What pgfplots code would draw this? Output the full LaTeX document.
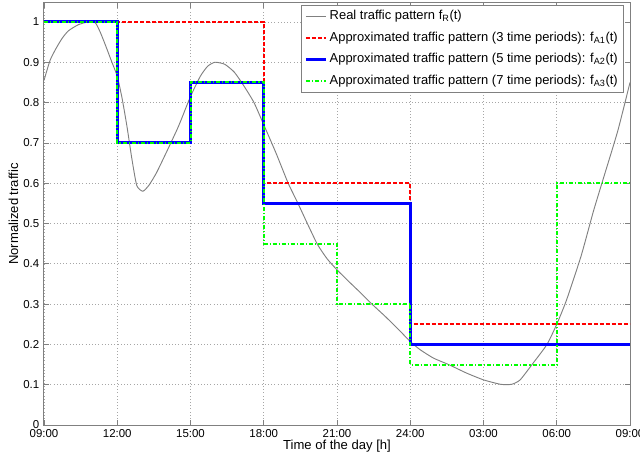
\documentclass[border=0pt]{standalone}
\usepackage{fontspec}
\setmainfont{Liberation Sans}
\usepackage{pgfplots}
\pgfplotsset{compat=1.18}
\definecolor{mgreen}{RGB}{0,255,0}
\definecolor{mblue}{RGB}{0,0,255}
\definecolor{mred}{RGB}{255,0,0}
\begin{document}
\begin{tikzpicture}
\begin{axis}[
  scale only axis, width=439.5pt, height=316.5pt,
  xmin=9, xmax=33, ymin=0, ymax=1.047,
  xtick={9,12,15,18,21,24,27,30,33},
  xticklabels={09:00,12:00,15:00,18:00,21:00,24:00,03:00,06:00,09:00},
  ytick={0,0.1,0.2,0.3,0.4,0.5,0.6,0.7,0.8,0.9,1},
  yticklabels={0,0.1,0.2,0.3,0.4,0.5,0.6,0.7,0.8,0.9,1},
  grid=major, major grid style={dotted, gray!70, line width=0.5pt},
  axis line style={gray, line width=0.75pt}, tick style={gray, line width=0.5pt},
  tick align=inside, major tick length=4pt,
  every tick label/.append style={font=\fontsize{8.6}{10}\selectfont},
  xlabel={Time of the day [h]}, ylabel={Normalized traffic},
  label style={font=\fontsize{9.8}{11}\selectfont},
  xlabel style={yshift=5pt},
  ylabel style={yshift=-3pt},
  legend style={at={(1,1)}, anchor=north east, xshift=-5pt, yshift=-1.5pt,
    draw=gray, font=\fontsize{9.7}{11}\selectfont,
    cells={anchor=west}, row sep=3.6pt, inner sep=2pt},
  legend image code/.code={\draw[#1] (0cm,0cm) -- (0.52cm,0cm);},
  /pgf/number format/assume math mode=true,
]
\addplot[gray, line width=0.7pt, smooth, tension=0.35] coordinates {
(9.0,0.855) (9.25,0.905) (9.5,0.935) (9.75,0.96) (10.0,0.978) (10.4,0.993)
(10.8,1.0) (11.1,0.998) (11.3,0.975) (11.5,0.945) (11.75,0.905) (12.0,0.865)
(12.2,0.81) (12.4,0.74) (12.6,0.66) (12.8,0.594) (13.05,0.58) (13.3,0.595)
(13.6,0.625) (14.0,0.675) (14.5,0.74) (15.0,0.815) (15.4,0.865) (15.7,0.89)
(16.0,0.9) (16.4,0.895) (16.8,0.875) (17.2,0.84) (17.6,0.80) (18.0,0.745)
(18.5,0.675) (19.0,0.60) (19.4,0.55) (19.8,0.498) (20.2,0.448) (20.6,0.412)
(21.0,0.385) (21.5,0.355) (22.0,0.326) (22.43,0.30) (23.0,0.268) (23.6,0.232)
(24.0,0.207) (24.4,0.187) (24.95,0.166) (25.57,0.15) (26.3,0.129) (27.0,0.112)
(27.7,0.101) (28.15,0.101) (28.5,0.112) (29.05,0.155) (29.6,0.2)
(30.0,0.25) (30.4,0.31) (31.0,0.42) (31.5,0.53) (31.9,0.61) (32.5,0.73) (33.0,0.85)
};
\addlegendentry{Real traffic pattern f\textsubscript{R}(t)}
\addplot[mred, line width=1.5pt, dash pattern=on 3pt off 1.5pt] coordinates {
(9,1) (18,1) (18,0.6) (24,0.6) (24,0.25) (33,0.25)
};
\addlegendentry{Approximated traffic pattern (3 time periods): f\textsubscript{A1}(t)}
\addplot[mblue, line width=2.2pt] coordinates {
(9,1) (12,1) (12,0.7) (15,0.7) (15,0.85) (18,0.85) (18,0.55) (24,0.55) (24,0.2) (33,0.2)
};
\addlegendentry{Approximated traffic pattern (5 time periods): f\textsubscript{A2}(t)}
\addplot[mgreen, line width=1.5pt, dash pattern=on 3pt off 1.5pt on 0.8pt off 1.5pt] coordinates {
(9,1) (12,1) (12,0.7) (15,0.7) (15,0.85) (18,0.85) (18,0.45) (21,0.45) (21,0.3) (24,0.3) (24,0.15) (30,0.15) (30,0.6) (33,0.6)
};
\addlegendentry{Approximated traffic pattern (7 time periods): f\textsubscript{A3}(t)}
\end{axis}
\pgfresetboundingbox
\useasboundingbox ([shift={(-33pt,-24pt)}]current axis.south west) rectangle ([shift={(7.5pt,2.25pt)}]current axis.north east);
\end{tikzpicture}
\end{document}
